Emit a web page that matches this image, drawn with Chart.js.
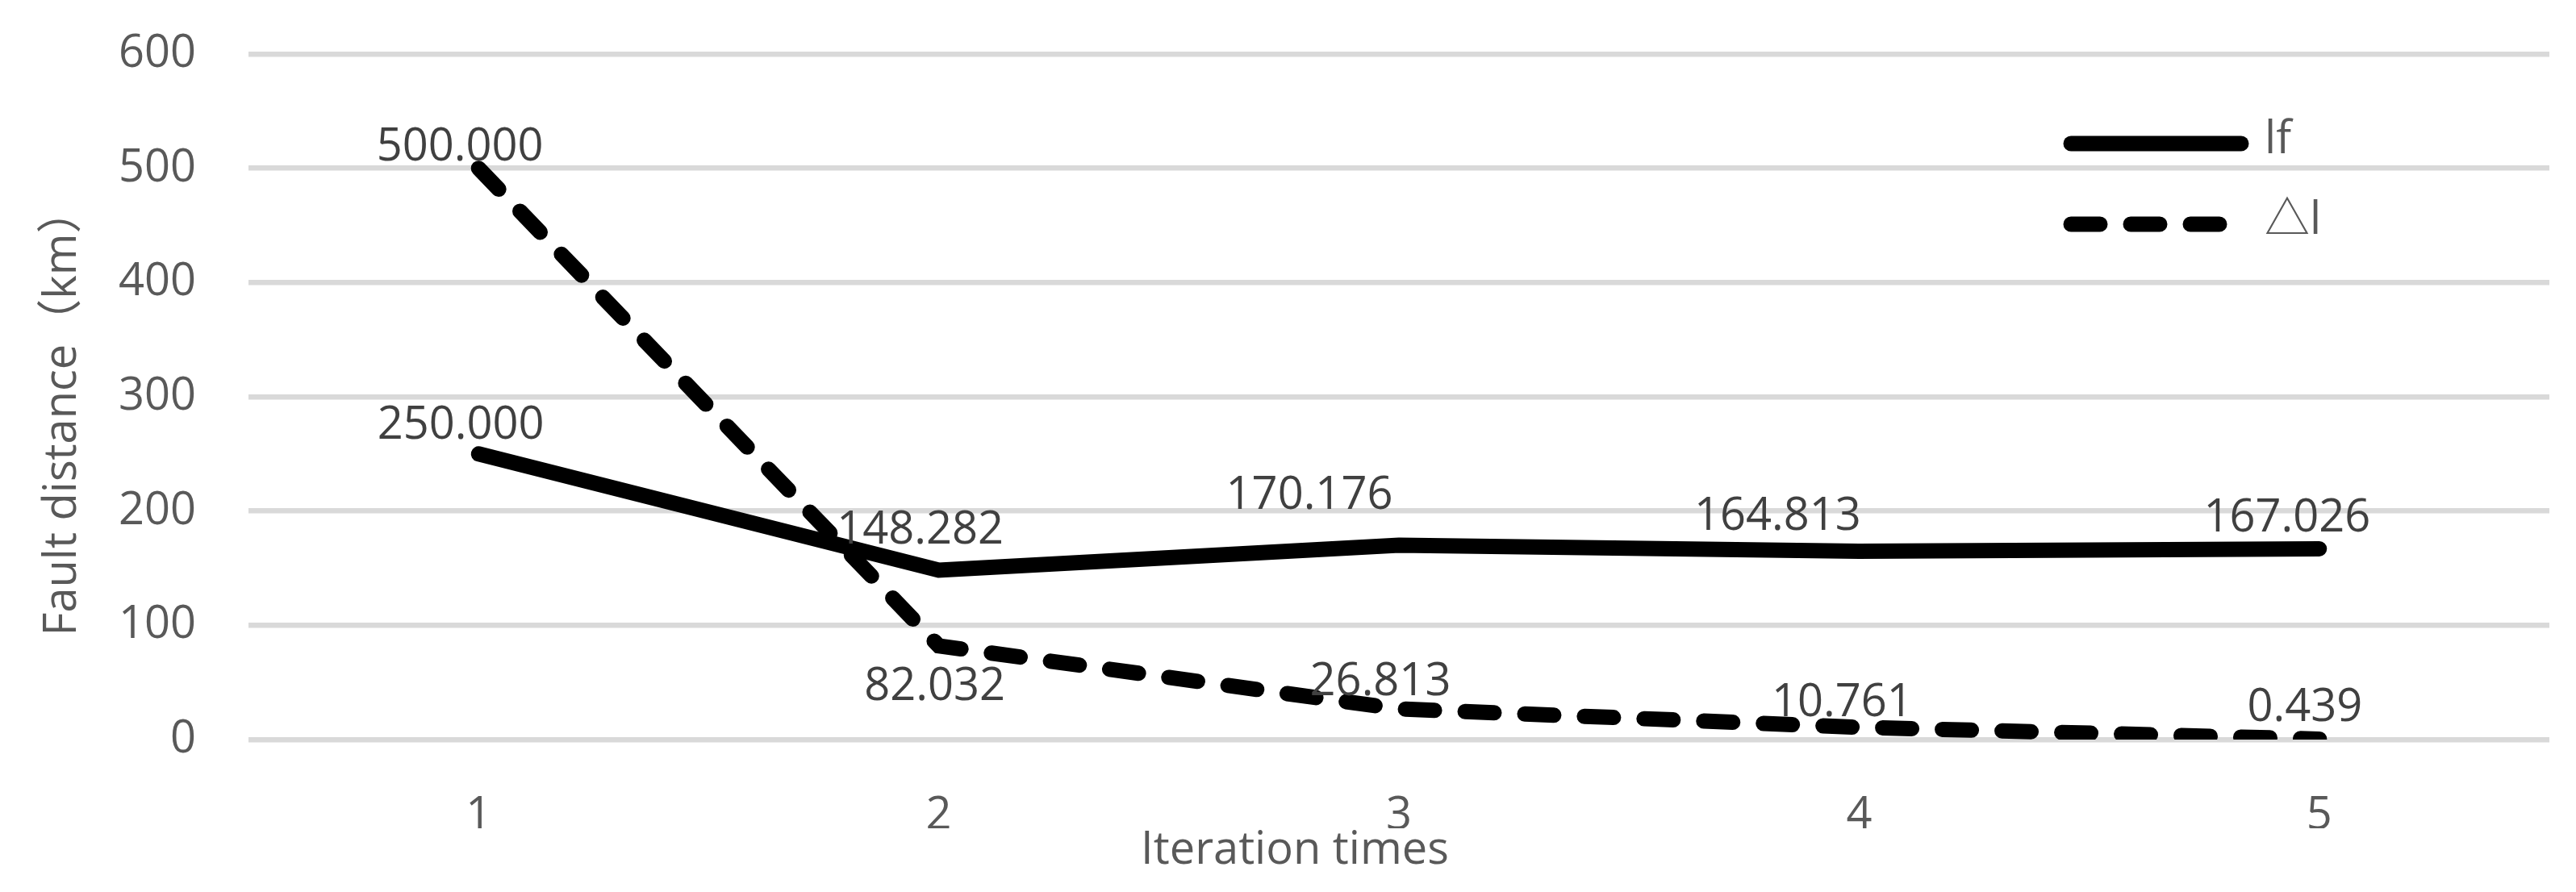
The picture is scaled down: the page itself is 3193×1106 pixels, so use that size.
<!DOCTYPE html>
<html>
<head>
<meta charset="utf-8">
<script src="https://cdn.jsdelivr.net/npm/chart.js@4.4.1/dist/chart.umd.min.js"></script>
<style>
    html, body { margin: 0; padding: 0; background: #ffffff; }
    #chart { display: block; }
</style>
</head>
<body>
<canvas id="chart" width="3193" height="1106"></canvas>
<script>
// Chart data
const iterations = ['1', '2', '3', '4', '5'];
const lfValues = [250.000, 148.282, 170.176, 164.813, 167.026];
const deltaValues = [500.000, 82.032, 26.813, 10.761, 0.439];
const seriesNames = ['lf', '\u25B3l'];
const yTitle = 'Fault distance（km）';
const xTitle = 'Iteration times';

const yMin = 0;
const yMax = 600;
const yStep = 100;

// Style settings
const FONT = '"Open Sans", "Noto Sans CJK SC", sans-serif';
const AXIS_COLOR = '#595959';
const LABEL_COLOR = '#404040';

// label nudges (px) relative to each point, Excel placed them by hand
const lfLabelShift = [[-22, -35], [-23, -49], [-111, -61], [-101, -42], [-40, -37]];
const deltaLabelShift = [[-23, -26], [-5, 51], [-23, -33], [-21, -30], [-18, -38]];

// Data labels drawn next to each point
const valueLabels = {
    id: 'valueLabels',
    afterDatasetsDraw(chart) {
        const ctx = chart.ctx;
        const shifts = [lfLabelShift, deltaLabelShift];
        ctx.save();
        ctx.font = '56px ' + FONT;
        ctx.fillStyle = LABEL_COLOR;
        ctx.textAlign = 'center';
        ctx.textBaseline = 'middle';
        chart.data.datasets.forEach((ds, i) => {
            const meta = chart.getDatasetMeta(i);
            meta.data.forEach((pt, j) => {
                const s = shifts[i][j];
                ctx.fillText(ds.data[j].toFixed(3), pt.x + s[0], pt.y + s[1]);
            });
        });
        ctx.restore();
    }
};

// Rotated y axis title (Excel centres it a bit below the plot middle)
const yAxisTitle = {
    id: 'yAxisTitle',
    afterDraw(chart) {
        const ctx = chart.ctx;
        const area = chart.chartArea;
        ctx.save();
        ctx.translate(78, (area.top + area.bottom) / 2 + 19);
        ctx.rotate(-Math.PI / 2);
        ctx.font = '56px ' + FONT;
        ctx.fillStyle = AXIS_COLOR;
        ctx.textAlign = 'center';
        ctx.textBaseline = 'middle';
        ctx.fillText(yTitle, 0, 0);
        ctx.restore();
    }
};

// Legend inside the plot, top right, stacked
const innerLegend = {
    id: 'innerLegend',
    afterDraw(chart) {
        const ctx = chart.ctx;
        const area = chart.chartArea;
        const x0 = area.right - 593;
        const x1 = area.right - 382;
        const textX = area.right - 353;
        ctx.save();
        chart.data.datasets.forEach((ds, i) => {
            const y = area.top + 111 + i * 100;
            ctx.beginPath();
            ctx.lineWidth = ds.borderWidth;
            ctx.strokeStyle = ds.borderColor;
            ctx.lineCap = 'round';
            ctx.setLineDash(ds.borderDash || []);
            ctx.moveTo(x0, y);
            ctx.lineTo(x1, y);
            ctx.stroke();
            ctx.setLineDash([]);
            ctx.font = '56px ' + FONT;
            ctx.fillStyle = AXIS_COLOR;
            ctx.textAlign = 'left';
            ctx.textBaseline = 'middle';
            ctx.fillText(ds.label, textX, y - 4);
        });
        ctx.restore();
    }
};

const ctx = document.getElementById('chart').getContext('2d');

new Chart(ctx, {
    type: 'line',
    data: {
        labels: iterations,
        datasets: [
            {
                label: seriesNames[0],
                data: lfValues,
                borderColor: '#000000',
                backgroundColor: '#000000',
                borderWidth: 19,
                borderCapStyle: 'round',
                pointRadius: 0,
                tension: 0,
                fill: false
            },
            {
                label: seriesNames[1],
                data: deltaValues,
                borderColor: '#000000',
                backgroundColor: '#000000',
                borderWidth: 19,
                borderDash: [36, 38],
                borderCapStyle: 'round',
                pointRadius: 0,
                tension: 0,
                fill: false
            }
        ]
    },
    options: {
        responsive: false,
        animation: false,
        devicePixelRatio: 1,
        layout: {
            padding: { top: 67, right: 33, bottom: 0, left: 50 }
        },
        scales: {
            x: {
                offset: true,
                grid: { display: false },
                border: { display: false },
                ticks: {
                    color: AXIS_COLOR,
                    font: { family: FONT, size: 56 },
                    padding: 53
                },
                afterFit: (s) => { s.height = 110; }
            },
            y: {
                min: yMin,
                max: yMax,
                grid: {
                    color: '#d9d9d9',
                    lineWidth: 6.5,
                    drawTicks: false
                },
                border: { display: false },
                ticks: {
                    stepSize: yStep,
                    color: AXIS_COLOR,
                    font: { family: FONT, size: 56 },
                    padding: 65
                },
                afterFit: (s) => {
                    s.width = 258;
                    s.paddingTop = 0;
                    s.paddingBottom = 0;
                }
            }
        },
        plugins: {
            legend: { display: false },
            tooltip: { enabled: false },
            title: {
                display: true,
                position: 'bottom',
                text: xTitle,
                color: AXIS_COLOR,
                font: { family: FONT, size: 56, weight: 'normal', lineHeight: 1.0 },
                padding: { top: 0, bottom: 23 }
            }
        }
    },
    plugins: [valueLabels, yAxisTitle, innerLegend]
});
</script>
</body>
</html>
